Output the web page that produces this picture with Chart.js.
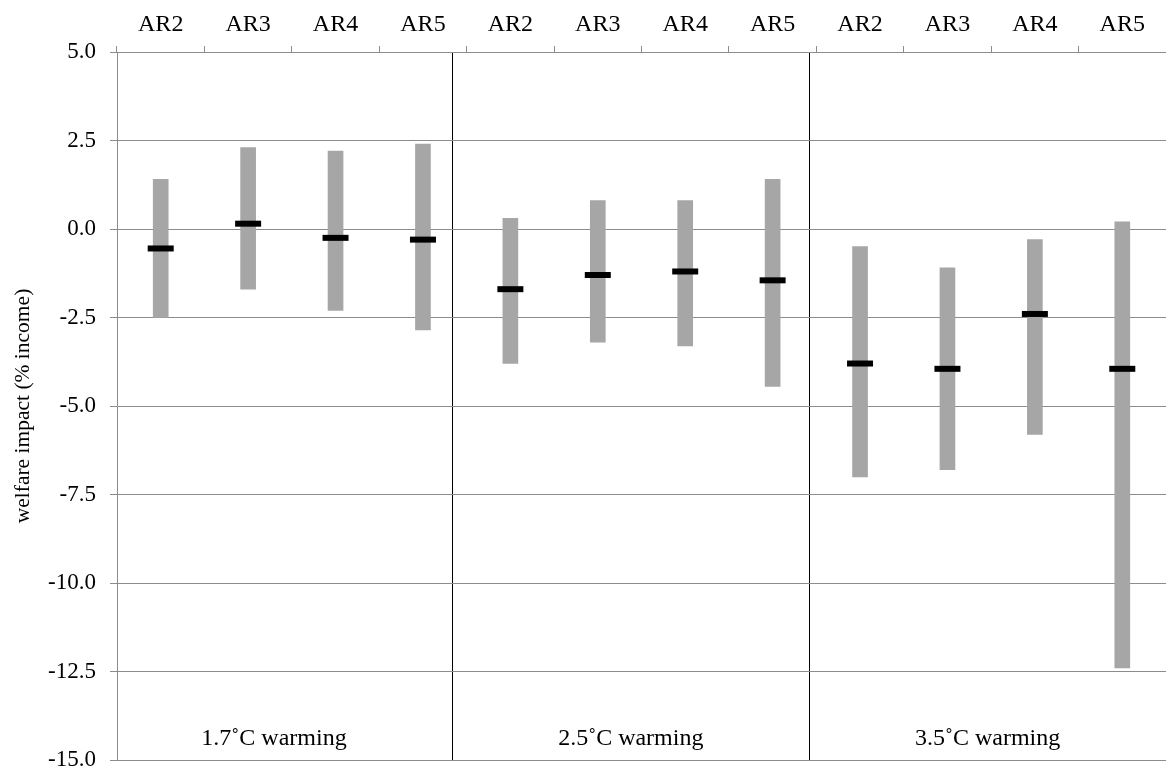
<!DOCTYPE html>
<html>
<head>
<meta charset="utf-8">
<script src="https://cdn.jsdelivr.net/npm/chart.js@4/dist/chart.umd.min.js"></script>
<style>
  html, body { margin: 0; padding: 0; background: #fff; }
  #wrap { width: 1166px; height: 775px; }
</style>
</head>
<body>
<div id="wrap"><canvas id="chart"></canvas></div>
<script>
/* ── Data ─────────────────────────────────────────────────── */
const reports = ['AR2', 'AR3', 'AR4', 'AR5'];
const scenarios = ['1.7˚C warming', '2.5˚C warming', '3.5˚C warming'];
const categories = scenarios.flatMap(() => reports);

const lowValues  = [-2.5, -1.7, -2.3, -2.85,  -3.8, -3.2, -3.3, -4.45,  -7.0, -6.8, -5.8, -12.4];
const highValues = [ 1.4,  2.3,  2.2,  2.4,    0.3,  0.8,  0.8,  1.4,   -0.5, -1.1, -0.3,  0.2];
const midValues  = [-0.55, 0.15, -0.25, -0.3, -1.7, -1.3, -1.2, -1.45,  -3.8, -3.95, -2.4, -3.95];

const yTicks = [5, 2.5, 0, -2.5, -5, -7.5, -10, -12.5, -15];

// group axis: scenario k is centred on k + 0.5, separators sit on whole numbers
const groupMin = 0.06;
const groupMax = 3;
const groupCentres = [0.5, 1.5, 2.5];
const groupSeparators = [1, 2];
const groupLabelLevel = -14.4;

const FONT = 'Liberation Serif, "Times New Roman", serif';

/* pin an axis box and drop the label overhang padding */
function pinBox(prop, size) {
  return scale => {
    scale[prop] = size;
    scale.paddingLeft = 0;
    scale.paddingRight = 0;
    scale.paddingTop = 0;
    scale.paddingBottom = 0;
  };
}

/* ── Group labels drawn inside the plot area ──────────────── */
const groupLabels = {
  id: 'groupLabels',
  afterDatasetsDraw(chart) {
    const xg = chart.scales.xg;
    const y = chart.scales.y;
    const ctx = chart.ctx;
    ctx.save();
    ctx.fillStyle = '#000';
    ctx.font = '24px ' + FONT;
    ctx.textAlign = 'center';
    ctx.textBaseline = 'middle';
    groupCentres.forEach((v, i) => {
      ctx.fillText(scenarios[i], xg.getPixelForValue(v), y.getPixelForValue(groupLabelLevel));
    });
    ctx.restore();
  }
};

new Chart(document.getElementById('chart'), {
  data: {
    labels: categories,
    datasets: [
      {
        type: 'line',
        data: midValues,
        showLine: false,
        pointStyle: 'line',
        pointRadius: 13,
        pointHoverRadius: 13,
        borderWidth: 6,
        pointBorderWidth: 6,
        borderColor: '#000',
        backgroundColor: '#000',
        order: 0,
      },
      {
        type: 'bar',
        data: lowValues.map((lo, i) => [lo, highValues[i]]),
        backgroundColor: '#a6a6a6',
        barThickness: 15,
        order: 1,
      },
    ],
  },
  options: {
    responsive: true,
    maintainAspectRatio: false,
    animation: false,
    layout: { padding: 0, autoPadding: false },
    plugins: {
      legend: { display: false },
      tooltip: { enabled: false },
    },
    scales: {
      x: {
        type: 'category',
        position: 'top',
        offset: true,
        grid: {
          offset: true,
          drawOnChartArea: false,
          drawTicks: true,
          tickLength: 6,
          tickColor: '#8c8c8c',
        },
        border: { color: '#8c8c8c' },
        ticks: {
          color: '#000',
          font: { family: FONT, size: 24 },
          padding: 7,
          maxRotation: 0,
          autoSkip: false,
        },
        afterFit: pinBox('height', 52),
      },
      xg: {
        type: 'linear',
        position: 'bottom',
        min: groupMin,
        max: groupMax,
        afterBuildTicks(scale) {
          scale.ticks = groupSeparators.map(v => ({ value: v }));
        },
        grid: {
          color: '#000',
          lineWidth: 1,
          drawTicks: false,
        },
        border: { display: false },
        ticks: { display: false },
        afterFit: pinBox('height', 15),
      },
      y: {
        min: -15,
        max: 5,
        afterBuildTicks(scale) {
          scale.ticks = yTicks.map(v => ({ value: v }));
        },
        grid: {
          color: '#8c8c8c',
          tickLength: 7,
          tickColor: '#8c8c8c',
        },
        border: { color: '#8c8c8c' },
        ticks: {
          color: '#000',
          font: { family: FONT, size: 23 },
          padding: 14,
          callback: v => v.toFixed(1),
        },
        title: {
          display: true,
          text: 'welfare impact (% income)',
          color: '#000',
          font: { family: FONT, size: 21.5 },
          padding: { top: 10, bottom: 4 },
        },
        afterFit: pinBox('width', 117),
      },
    },
  },
  plugins: [groupLabels],
});
</script>
</body>
</html>
